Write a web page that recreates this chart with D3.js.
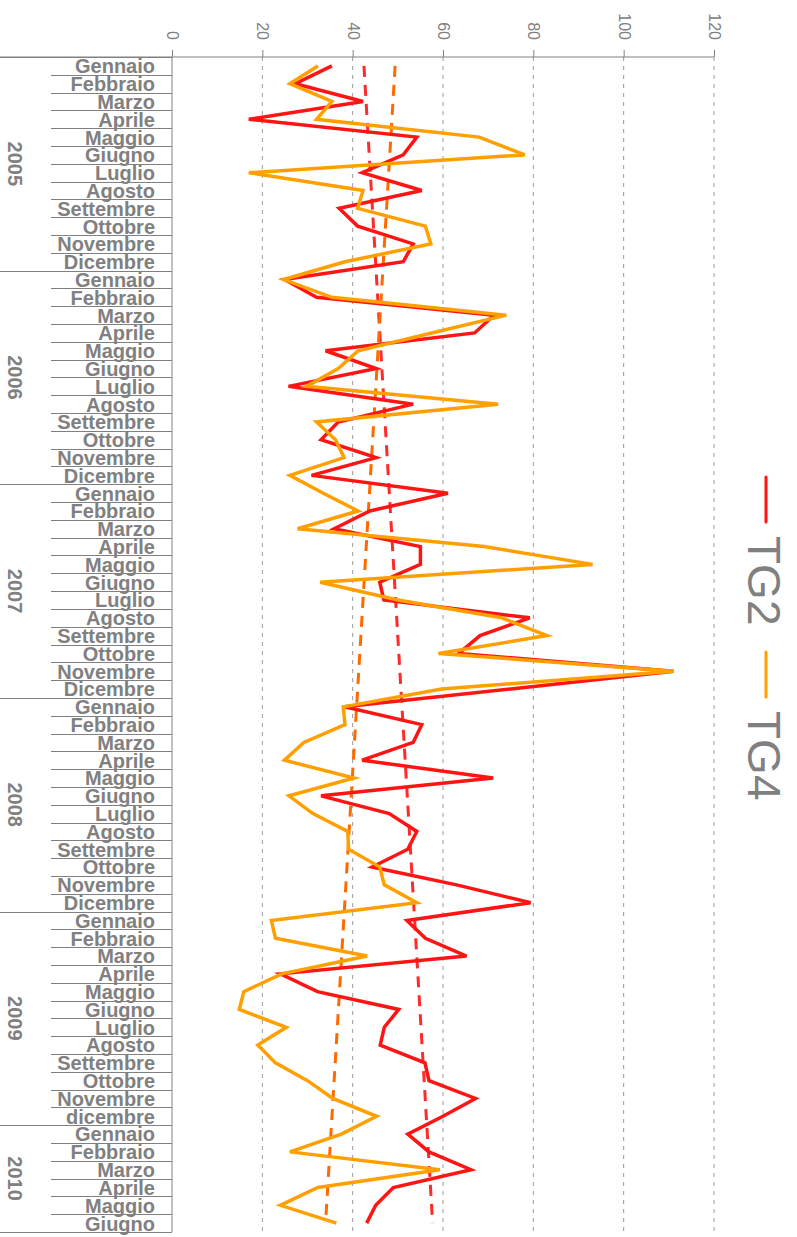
<!DOCTYPE html>
<html>
<head>
<meta charset="utf-8">
<script src="https://cdn.jsdelivr.net/npm/d3@7"></script>
<style>
  body { margin: 0; background: #fff; }
  svg { display: block; font-family: "Liberation Sans", Arial, sans-serif; }
</style>
</head>
<body>
<svg id="chart" width="797" height="1237"></svg>
<script>
// month labels, one row each, grouped by year
var months = [
  "Gennaio","Febbraio","Marzo","Aprile","Maggio","Giugno","Luglio","Agosto","Settembre","Ottobre","Novembre","Dicembre",
  "Gennaio","Febbraio","Marzo","Aprile","Maggio","Giugno","Luglio","Agosto","Settembre","Ottobre","Novembre","Dicembre",
  "Gennaio","Febbraio","Marzo","Aprile","Maggio","Giugno","Luglio","Agosto","Settembre","Ottobre","Novembre","Dicembre",
  "Gennaio","Febbraio","Marzo","Aprile","Maggio","Giugno","Luglio","Agosto","Settembre","Ottobre","Novembre","Dicembre",
  "Gennaio","Febbraio","Marzo","Aprile","Maggio","Giugno","Luglio","Agosto","Settembre","Ottobre","Novembre","dicembre",
  "Gennaio","Febbraio","Marzo","Aprile","Maggio","Giugno"
];
var years = ["2005", "2006", "2007", "2008", "2009", "2010"];
var monthsInYear = [12, 12, 12, 12, 12, 6];

var tg2 = [
  35.4, 27.3, 42.3, 17.0, 54.2, 51.2, 42.1, 55.3, 37.0, 41.1, 53.4, 51.2,
  24.9, 32.0, 71.3, 67.0, 34.0, 45.2, 25.8, 53.4, 36.8, 33.0, 45.2, 30.9,
  61.1, 43.8, 35.9, 55.0, 55.0, 46.0, 46.9, 79.2, 68.2, 63.5, 111.0, 75.0,
  38.2, 55.3, 53.4, 42.1, 71.1, 33.0, 48.1, 54.2, 52.2, 44.3, 63.0, 79.4,
  52.0, 56.1, 65.2, 24.0, 32.2, 50.2, 47.0, 46.1, 56.0, 56.9, 67.2, 60.0,
  52.2, 56.9, 66.2, 49.0, 45.1, 43.1
];
var tg4 = [
  32.3, 26.1, 35.4, 32.0, 68.0, 78.1, 17.0, 42.3, 41.1, 56.1, 57.3, 38.3,
  24.7, 35.4, 74.0, 57.5, 41.2, 36.8, 29.8, 72.2, 32.0, 36.2, 38.1, 26.1,
  33.5, 41.2, 27.8, 69.1, 93.1, 32.8, 50.0, 73.0, 83.0, 59.0, 111.0, 59.7,
  37.9, 38.3, 29.2, 24.9, 40.3, 25.9, 31.2, 38.9, 39.1, 46.0, 47.0, 54.2,
  22.0, 22.9, 43.2, 24.3, 15.9, 14.9, 25.3, 19.0, 22.9, 30.0, 35.6, 45.3,
  37.5, 26.1, 59.3, 32.3, 24.0, 36.4
];
// trend line ends (first month, last month)
var tg2Trend = [42.5, 57.7];
var tg4Trend = [49.4, 34.0];
var valueTicks = [0, 20, 40, 60, 80, 100, 120];

var grey = "#808080";
var red = "#ff1414";
var orange = "#ffa000";

var svg = d3.select("#chart");

var x = d3.scaleLinear().domain([0, 120]).range([172, 714]);
var y = d3.scaleBand().domain(d3.range(months.length)).range([57, 1232]).padding(0);
var yMid = function (i) { return y(i) + y.bandwidth() / 2; };

// grid lines
svg.append("g").selectAll("line")
  .data(valueTicks.slice(1))
  .enter().append("line")
    .attr("x1", d => x(d)).attr("x2", d => x(d))
    .attr("y1", 57).attr("y2", 1232)
    .attr("stroke", "#9a9a9a")
    .attr("stroke-width", 1)
    .attr("stroke-dasharray", "4,5");

// value axis on top
var axis = svg.append("g")
  .attr("transform", "translate(0,57)")
  .call(d3.axisTop(x).tickValues(valueTicks).tickSize(7).tickFormat(d3.format("d")));
axis.select(".domain").remove();
axis.selectAll(".tick line").attr("stroke", grey);
axis.selectAll(".tick text")
  .attr("fill", grey)
  .style("font-size", "16px")
  .attr("text-anchor", "end")
  .attr("transform", "translate(0,-17) rotate(90)")
  .attr("x", 0).attr("y", 0).attr("dy", "0.35em");
svg.append("line")
  .attr("x1", 0).attr("x2", x(120)).attr("y1", 57).attr("y2", 57)
  .attr("stroke", grey).attr("stroke-width", 1);

// category axis
svg.append("line")
  .attr("x1", x(0)).attr("x2", x(0)).attr("y1", 57).attr("y2", 1232)
  .attr("stroke", grey).attr("stroke-width", 1);

var yearStart = [];
var acc = 0;
monthsInYear.forEach(function (n) { yearStart.push(acc); acc += n; });

var sep = svg.append("g");
d3.range(months.length + 1).forEach(function (i) {
  var yy = i < months.length ? y(i) : y(months.length - 1) + y.bandwidth();
  var isYear = i === months.length || yearStart.indexOf(i) >= 0;
  sep.append("line")
    .attr("x1", isYear ? 0 : 51).attr("x2", x(0))
    .attr("y1", Math.round(yy) + 0.5).attr("y2", Math.round(yy) + 0.5)
    .attr("stroke", grey).attr("stroke-width", 1);
});

svg.append("g").selectAll("text")
  .data(months)
  .enter().append("text")
    .attr("x", 155)
    .attr("y", (d, i) => y(i) + y.bandwidth() - 1.5)
    .attr("text-anchor", "end")
    .attr("fill", grey)
    .style("font-size", "20px")
    .style("font-weight", "bold")
    .text(d => d);

svg.append("g").selectAll("text")
  .data(years)
  .enter().append("text")
    .attr("transform", function (d, i) {
      var top = y(yearStart[i]);
      var bottom = y(yearStart[i] + monthsInYear[i] - 1) + y.bandwidth();
      return "translate(8," + ((top + bottom) / 2) + ") rotate(90)";
    })
    .attr("text-anchor", "middle")
    .attr("fill", grey)
    .style("font-size", "20px")
    .style("font-weight", "bold")
    .text(d => d);

// trend lines
var last = months.length - 1;
[[tg2Trend, "#ff2a2a"], [tg4Trend, "#ff6a00"]].forEach(function (t) {
  svg.append("line")
    .attr("x1", x(t[0][0])).attr("y1", yMid(0))
    .attr("x2", x(t[0][1])).attr("y2", yMid(last))
    .attr("stroke", t[1])
    .attr("stroke-width", 3)
    .attr("stroke-dasharray", "11,8");
});

// series
var line = d3.line()
  .x(d => x(d))
  .y((d, i) => yMid(i));

svg.append("path")
  .datum(tg2)
  .attr("d", line)
  .attr("fill", "none")
  .attr("stroke", red)
  .attr("stroke-width", 3.5)
  .attr("stroke-linejoin", "miter");

svg.append("path")
  .datum(tg4)
  .attr("d", line)
  .attr("fill", "none")
  .attr("stroke", orange)
  .attr("stroke-width", 3.5)
  .attr("stroke-linejoin", "miter");

// legend
var legend = [
  { name: "TG2", color: red, top: 477 },
  { name: "TG4", color: orange, top: 652 }
];
legend.forEach(function (l) {
  svg.append("line")
    .attr("x1", 766).attr("x2", 766)
    .attr("y1", l.top).attr("y2", l.top + 45)
    .attr("stroke", l.color)
    .attr("stroke-width", 3)
    .attr("stroke-linecap", "round");
  svg.append("text")
    .attr("transform", "translate(748," + (l.top + 59) + ") rotate(90)")
    .attr("fill", grey)
    .style("font-size", "46px")
    .text(l.name);
});
</script>
</body>
</html>
